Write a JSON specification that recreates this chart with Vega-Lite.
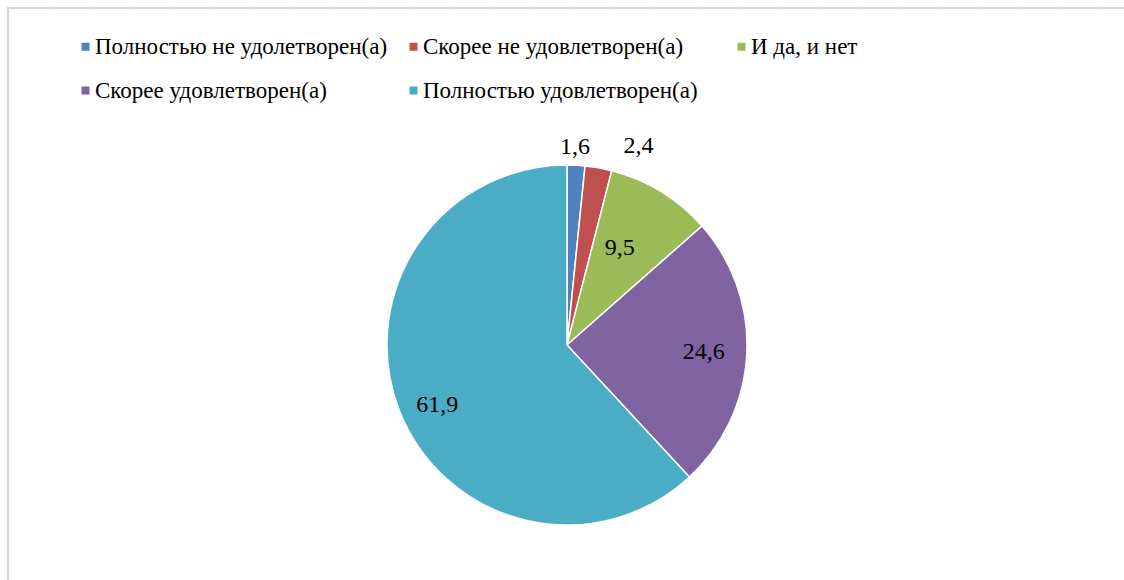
{
  "$schema": "https://vega.github.io/schema/vega-lite/v6.json",
  "autosize": {"type": "none"},
  "width": 1118,
  "height": 674,
  "padding": {"left": 8, "top": 8, "right": -2, "bottom": -102},
  "background": "white",
  "view": {"stroke": "#d4d4d4", "strokeWidth": 2, "strokeDash": [40, 0.5]},
  "config": {
    "font": "Liberation Serif"
  },
  "data": {
    "values": [
      {"cat": "Полностью не удолетворен(а)", "order": 1, "value": 1.6, "label": "1,6"},
      {"cat": "Скорее не удовлетворен(а)", "order": 2, "value": 2.4, "label": "2,4"},
      {"cat": "И да, и нет", "order": 3, "value": 9.5, "label": "9,5"},
      {"cat": "Скорее удовлетворен(а)", "order": 4, "value": 24.6, "label": "24,6"},
      {"cat": "Полностью удовлетворен(а)", "order": 5, "value": 61.9, "label": "61,9"}
    ]
  },
  "encoding": {
    "theta": {"field": "value", "type": "quantitative", "stack": true},
    "order": {"field": "order", "type": "quantitative"}
  },
  "layer": [
    {
      "mark": {"type": "arc", "radius": 180, "stroke": "white", "strokeWidth": 1.5},
      "encoding": {
        "color": {
          "field": "cat",
          "type": "nominal",
          "sort": ["Полностью не удолетворен(а)", "Скорее не удовлетворен(а)", "И да, и нет", "Скорее удовлетворен(а)", "Полностью удовлетворен(а)"],
          "scale": {
            "domain": ["Полностью не удолетворен(а)", "Скорее не удовлетворен(а)", "И да, и нет", "Скорее удовлетворен(а)", "Полностью удовлетворен(а)"],
            "range": ["#4F81BD", "#C0504D", "#9BBB59", "#8064A2", "#4BACC6"]
          },
          "legend": {
            "title": null,
            "orient": "none",
            "legendX": 66,
            "legendY": 27,
            "direction": "horizontal",
            "columns": 3,
            "gridAlign": "all",
            "columnPadding": 14,
            "rowPadding": 20,
            "padding": 0,
            "symbolType": "square",
            "symbolSize": 64,
            "symbolStrokeWidth": 0,
            "symbolOffset": 0,
            "labelOffset": -2,
            "labelFont": "Liberation Serif",
            "labelFontSize": 23,
            "labelColor": "black",
            "labelLimit": 400
          }
        }
      }
    },
    {
      "mark": {"type": "text", "radius": 198, "font": "Liberation Serif", "fontSize": 24, "color": "black", "thetaOffset": -0.01},
      "encoding": {"text": {"condition": {"test": "datum.order == 1", "field": "label"}, "value": ""}}
    },
    {
      "mark": {"type": "text", "radius": 211, "thetaOffset": 0.17, "font": "Liberation Serif", "fontSize": 24, "color": "black"},
      "encoding": {"text": {"condition": {"test": "datum.order == 2", "field": "label"}, "value": ""}}
    },
    {
      "mark": {"type": "text", "radius": 110, "thetaOffset": -0.05, "font": "Liberation Serif", "fontSize": 24, "color": "black"},
      "encoding": {"text": {"condition": {"test": "datum.order == 3", "field": "label"}, "value": ""}}
    },
    {
      "mark": {"type": "text", "radius": 137, "font": "Liberation Serif", "fontSize": 24, "color": "black"},
      "encoding": {"text": {"condition": {"test": "datum.order == 4", "field": "label"}, "value": ""}}
    },
    {
      "mark": {"type": "text", "radius": 143, "thetaOffset": -0.06, "font": "Liberation Serif", "fontSize": 24, "color": "black"},
      "encoding": {"text": {"condition": {"test": "datum.order == 5", "field": "label"}, "value": ""}}
    }
  ]
}
